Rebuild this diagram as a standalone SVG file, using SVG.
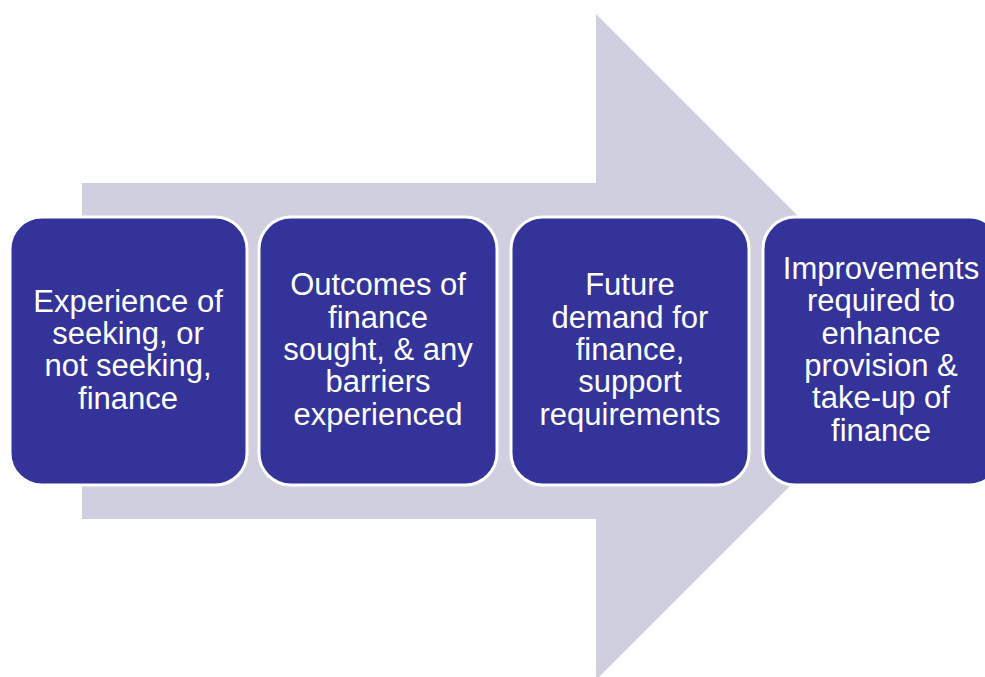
<svg xmlns="http://www.w3.org/2000/svg" width="985" height="677" viewBox="0 0 985 677">
<style>
.box{fill:#333399;stroke:#ffffff;stroke-width:3}
.t{font-family:"Liberation Sans",Arial,sans-serif;font-size:31px;fill:#ffffff;text-anchor:middle}
</style>
<rect width="985" height="677" fill="#ffffff"/>
<g id="arrow">
<polygon points="82,183 596,183 596,14 929,347 596,680 596,519 82,519" fill="#cfcfe0"/>
</g>
<g id="connectors"></g>
<g id="node1">
<rect class="box" x="10" y="217" width="237" height="268" rx="32"/>
<text class="t"><tspan x="128" y="312">Experience of</tspan><tspan x="128" y="344">seeking, or</tspan><tspan x="128" y="376">not seeking,</tspan><tspan x="128" y="409">finance</tspan></text>
</g>
<g id="node2">
<rect class="box" x="259" y="217" width="238" height="268" rx="32"/>
<text class="t"><tspan x="378" y="295">Outcomes of</tspan><tspan x="378" y="328">finance</tspan><tspan x="378" y="360">sought, &amp; any</tspan><tspan x="378" y="392">barriers</tspan><tspan x="378" y="425">experienced</tspan></text>
</g>
<g id="node3">
<rect class="box" x="511" y="217" width="238" height="268" rx="32"/>
<text class="t"><tspan x="630" y="295">Future</tspan><tspan x="630" y="328">demand for</tspan><tspan x="630" y="360">finance,</tspan><tspan x="630" y="392">support</tspan><tspan x="630" y="425">requirements</tspan></text>
</g>
<g id="node4">
<rect class="box" x="763" y="217" width="238" height="268" rx="32"/>
<text class="t"><tspan x="881" y="279">Improvements</tspan><tspan x="881" y="311">required to</tspan><tspan x="881" y="344">enhance</tspan><tspan x="881" y="376">provision &amp;</tspan><tspan x="881" y="408">take-up of</tspan><tspan x="881" y="441">finance</tspan></text>
</g>
</svg>
